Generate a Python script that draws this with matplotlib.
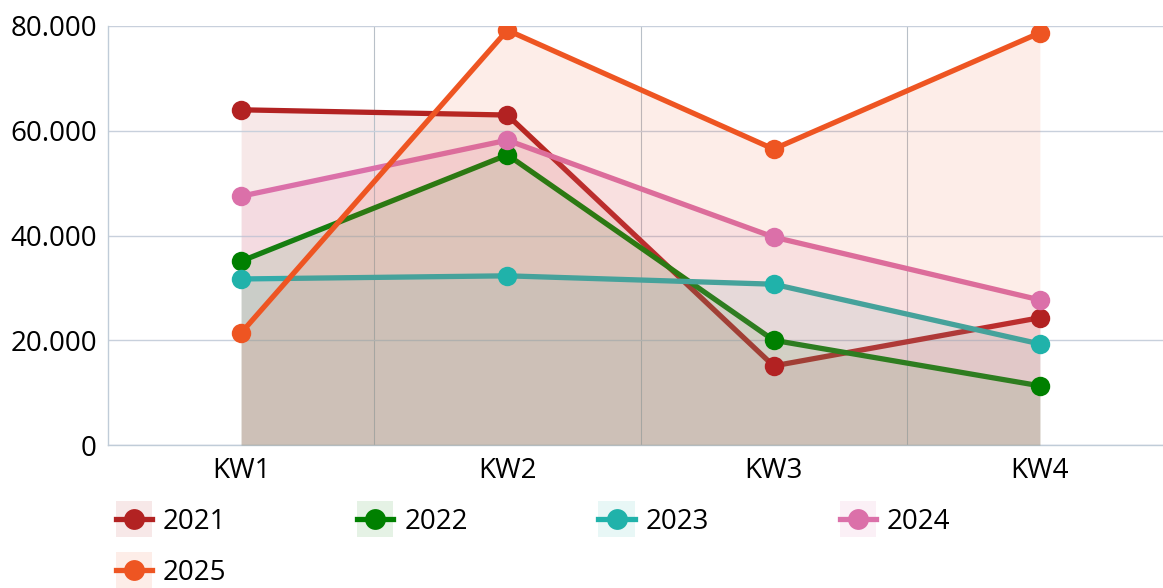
import matplotlib.pyplot as plt
from matplotlib.legend_handler import HandlerBase
from matplotlib.patches import Rectangle
from matplotlib.lines import Line2D
from matplotlib.ticker import FuncFormatter, FixedLocator

plt.rcParams['font.family'] = ['Open Sans', 'DejaVu Sans']

weeks = ['KW1', 'KW2', 'KW3', 'KW4']
years = ['2021', '2022', '2023', '2024', '2025']
values = {
    '2021': [64000, 63000, 15100, 24300],
    '2022': [35100, 55400, 20000, 11300],
    '2023': [31700, 32300, 30700, 19300],
    '2024': [47500, 58200, 39700, 27700],
    '2025': [21400, 79200, 56500, 78700],
}
colors = {
    '2021': '#B22222',
    '2022': '#008000',
    '2023': '#20B2AA',
    '2024': '#DB70A9',
    '2025': '#EE5522',
}


class BoxedLineHandler(HandlerBase):
    """ Legend key: light square with line and dot """
    def create_artists(self, legend, orig, xdescent, ydescent, width, height, fontsize, trans):
        c = orig.get_color()
        yc = -ydescent + height / 2
        box = Rectangle((-xdescent, yc - width / 2), width, width,
                        facecolor=c, alpha=0.1, edgecolor='none', transform=trans)
        line = Line2D([-xdescent, -xdescent + width], [yc, yc], color=c, lw=3.8,
                      transform=trans)
        dot = Line2D([-xdescent + width / 2], [yc], marker='o', ms=15, color=c,
                     markeredgewidth=0, transform=trans)
        return [box, line, dot]


fig = plt.figure(figsize=(11.63, 5.88), dpi=100)
ax = fig.add_axes([108 / 1163, 1 - 445 / 588, 1065 / 1163, (445 - 26) / 588])

x = list(range(len(weeks)))
handles = {}
for i, y in enumerate(years):
    c = colors[y]
    ax.fill_between(x, values[y], 0, color=c, alpha=0.1, lw=0, zorder=1 + 2 * i)
    ln, = ax.plot(x, values[y], color=c, lw=3.8, zorder=2 + 2 * i, solid_capstyle='round')
    handles[y] = ln
for y in years:
    ax.plot(x, values[y], 'o', color=colors[y], ms=14, markeredgewidth=0, zorder=30)

ax.set_xlim(-0.5, 3.5)
ax.set_ylim(0, 80000)
ax.set_xticks(x)
ax.set_xticklabels(weeks)
ax.set_yticks([0, 20000, 40000, 60000, 80000])
ax.yaxis.set_major_formatter(FuncFormatter(lambda v, p: f'{int(v):,}'.replace(',', '.')))
ax.xaxis.set_minor_locator(FixedLocator([0.5, 1.5, 2.5]))
ax.tick_params(axis='both', which='both', length=0, labelsize=20, pad=8)
ax.tick_params(axis='x', pad=9)
ax.grid(axis='y', color='#C8D0DC', lw=1, zorder=0)
ax.grid(axis='x', which='minor', color='#B8C0C8', lw=0.8, zorder=0)
for s in ['top', 'right']:
    ax.spines[s].set_visible(False)
for s in ['left', 'bottom']:
    ax.spines[s].set_color('#C0CCD8')
    ax.spines[s].set_linewidth(1)

# matplotlib fills legend columns first, so order for rows: 2021..2024, then 2025
order = ['2021', '2025', '2022', '2023', '2024']
fig.legend([handles[y] for y in order], order, handler_map={Line2D: BoxedLineHandler()},
           loc='upper left', bbox_to_anchor=(102 / 1163, 1 - 493 / 588),
           ncol=4, frameon=False, fontsize=20, handlelength=1.3, handleheight=1.0,
           handletextpad=0.4, columnspacing=4.7, labelspacing=0.8, borderpad=0)

fig.savefig('out.png', dpi=100)
